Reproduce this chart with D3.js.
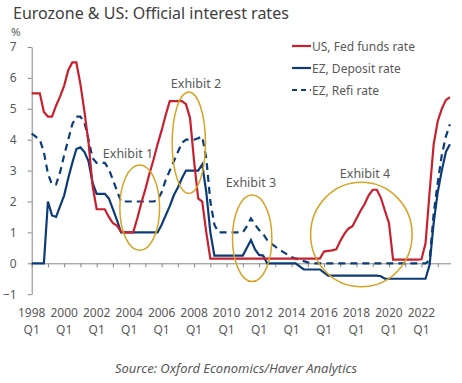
<!DOCTYPE html>
<html>
<head>
<meta charset="utf-8">
<script src="https://cdn.jsdelivr.net/npm/d3@7"></script>
<style>
  body { margin: 0; background: #fff; }
  svg text { font-family: "Noto Sans", "Open Sans", sans-serif; fill: #595959; }
</style>
</head>
<body>
<div class="chart"></div>
<script>
// quarterly, 1998Q1 .. 2023Q4
const startYear = 1998
const fedFunds = [
  5.5, 5.5, 5.5, 4.9,      // 1998
  4.75, 4.75, 5.1, 5.4,    // 1999
  5.75, 6.25, 6.5, 6.5,    // 2000
  5.8, 4.9, 3.9, 2.5,      // 2001
  1.75, 1.75, 1.75, 1.5,   // 2002
  1.3, 1.22, 1.02, 1.0,    // 2003
  1.0, 1.0, 1.45, 1.95,    // 2004
  2.4, 2.9, 3.35, 3.85,    // 2005
  4.3, 4.8, 5.25, 5.25,    // 2006
  5.25, 5.25, 5.15, 4.7,   // 2007
  3.3, 2.1, 2.0, 1.0,      // 2008
  0.15, 0.15, 0.15, 0.15,  // 2009
  0.15, 0.15, 0.15, 0.15,  // 2010
  0.15, 0.15, 0.15, 0.15,  // 2011
  0.15, 0.15, 0.15, 0.15,  // 2012
  0.15, 0.15, 0.15, 0.15,  // 2013
  0.15, 0.15, 0.15, 0.15,  // 2014
  0.15, 0.15, 0.15, 0.16,  // 2015
  0.38, 0.4, 0.42, 0.45,   // 2016
  0.72, 0.95, 1.12, 1.2,   // 2017
  1.45, 1.7, 1.92, 2.2,    // 2018
  2.38, 2.38, 2.12, 1.7,   // 2019
  1.3, 0.12, 0.12, 0.12,   // 2020
  0.12, 0.12, 0.12, 0.12,  // 2021
  0.13, 0.65, 2.3, 3.85,   // 2022
  4.6, 5.0, 5.28, 5.38     // 2023
]
const ezDeposit = [
  0, 0, 0, 0,
  2.0, 1.55, 1.5, 1.85,
  2.2, 2.75, 3.25, 3.7,
  3.75, 3.6, 3.3, 2.6,
  2.25, 2.25, 2.25, 2.1,
  1.75, 1.4, 1.0, 1.0,
  1.0, 1.0, 1.0, 1.0,
  1.0, 1.0, 1.0, 1.0,
  1.25, 1.55, 1.85, 2.2,
  2.45, 2.75, 3.0, 3.0,
  3.0, 3.0, 3.2, 2.3,
  1.0, 0.25, 0.25, 0.25,
  0.25, 0.25, 0.25, 0.25,
  0.25, 0.5, 0.75, 0.45,
  0.27, 0.25, 0.0, 0.0,
  0, 0, 0, 0,
  0, 0, -0.1, -0.2,
  -0.2, -0.2, -0.2, -0.2,
  -0.3, -0.4, -0.4, -0.4,
  -0.4, -0.4, -0.4, -0.4,
  -0.4, -0.4, -0.4, -0.4,
  -0.4, -0.4, -0.42, -0.5,
  -0.5, -0.5, -0.5, -0.5,
  -0.5, -0.5, -0.5, -0.5,
  -0.5, -0.5, -0.05, 1.3,
  2.3, 3.0, 3.6, 3.85
]
const ezRefi = [
  4.2, 4.1, 4.0, 3.6,
  2.9, 2.55, 2.55, 2.95,
  3.5, 4.0, 4.5, 4.75,
  4.75, 4.55, 4.0, 3.4,
  3.25, 3.25, 3.25, 3.05,
  2.7, 2.35, 2.0, 2.0,
  2.0, 2.0, 2.0, 2.0,
  2.0, 2.0, 2.0, 2.05,
  2.3, 2.7, 3.0, 3.3,
  3.6, 3.9, 4.0, 4.0,
  4.0, 4.05, 4.1, 3.4,
  2.0, 1.25, 1.0, 1.0,
  1.0, 1.0, 1.0, 1.0,
  1.0, 1.2, 1.45, 1.25,
  1.08, 0.95, 0.75, 0.64,
  0.54, 0.45, 0.36, 0.28,
  0.2, 0.15, 0.12, 0.07,
  0.03, 0, 0, 0,
  0, 0, 0, 0,
  0, 0, 0, 0,
  0, 0, 0, 0,
  0, 0, 0, 0,
  0, 0, 0, 0,
  0, 0, 0, 0,
  0, 0, 0.1, 1.6,
  2.6, 3.5, 4.1, 4.5
]
const seriesNames = ["US, Fed funds rate", "EZ, Deposit rate", "EZ, Refi rate"]
const yTicks = [-1, 0, 1, 2, 3, 4, 5, 6, 7]
// exhibit rings: [label, centre quarter, centre value, half-width in quarters, half-height in %]
const exhibits = [
  ["Exhibit 1", 26.6, 1.8, 4.9, 1.38],
  ["Exhibit 2", 38.7, 3.9, 4.1, 1.64],
  ["Exhibit 3", 54.3, 0.81, 4.85, 1.4],
  ["Exhibit 4", 81.2, 0.93, 12.5, 1.69]
]
// where the ring captions sit (px)
const exhibitLabelPos = [[128, 158], [196, 88], [251, 187], [365, 178]]

const width = 462, height = 383
const svg = d3.select('.chart').append('svg')
  .attr('width', width)
  .attr('height', height)

const nQ = fedFunds.length
const x = d3.scaleLinear().domain([0, nQ - 1]).range([31.7, 449.9])
const y = d3.scaleLinear().domain([-1, 7]).range([294.2, 47.0])

const red = '#c8202f', navy = '#0c3c78', gold = '#d6a324'

// title
svg.append('text')
  .attr('x', 13).attr('y', 19)
  .attr('font-size', '16px')
  .style('fill', '#404040')
  .text('Eurozone & US: Official interest rates')

svg.append('text')
  .attr('x', 11).attr('y', 36)
  .attr('font-size', '11.5px')
  .text('%')

// y axis
const yAxis = d3.axisLeft(y).tickValues(yTicks).tickSize(4).tickSizeOuter(0).tickPadding(11)
const gy = svg.append('g')
  .attr('class', 'y-axis')
  .attr('transform', `translate(${x(0)},0)`)
  .call(yAxis)
gy.select('.domain').attr('stroke', '#868686')
gy.selectAll('line').attr('stroke', '#868686')
gy.selectAll('text').attr('font-size', '12px').style('fill', '#595959')
  .attr('font-family', null)

// x axis at zero
const yearTicks = d3.range(0, nQ, 4)
const xAxis = d3.axisBottom(x).tickValues(yearTicks).tickSize(4).tickSizeOuter(0).tickFormat('')
const gx = svg.append('g')
  .attr('class', 'x-axis')
  .attr('transform', `translate(0,${y(0)})`)
  .call(xAxis)
gx.select('.domain').attr('d', `M${x(0)},0.5H451`).attr('stroke', '#868686')
gx.selectAll('line').attr('stroke', '#868686')

// x labels at the bottom
const labelQs = d3.range(0, nQ, 8)
const xl = svg.append('g').selectAll('text')
  .data(labelQs)
  .enter()
  .append('text')
  .attr('text-anchor', 'middle')
  .attr('font-size', '12px')
xl.append('tspan').attr('x', d => x(d)).attr('y', 317).text(d => startYear + d / 4)
xl.append('tspan').attr('x', d => x(d)).attr('y', 334).text('Q1')

// lines
const line = d3.line().x((d, i) => x(i)).y(d => y(d))

svg.append('path').datum(ezRefi)
  .attr('fill', 'none').attr('stroke', navy).attr('stroke-width', 2.2)
  .attr('stroke-dasharray', '7,5')
  .attr('d', line)

svg.append('path').datum(ezDeposit)
  .attr('fill', 'none').attr('stroke', navy).attr('stroke-width', 2.2)
  .attr('d', line)

svg.append('path').datum(fedFunds)
  .attr('fill', 'none').attr('stroke', red).attr('stroke-width', 2.2)
  .attr('d', line)

// exhibit rings
const qw = x(1) - x(0), vh = y(0) - y(1)
exhibits.forEach((e, i) => {
  svg.append('ellipse')
    .attr('cx', x(e[1])).attr('cy', y(e[2]))
    .attr('rx', e[3] * qw).attr('ry', e[4] * vh)
    .attr('fill', 'none').attr('stroke', gold).attr('stroke-width', 1.5)
  svg.append('text')
    .attr('x', exhibitLabelPos[i][0]).attr('y', exhibitLabelPos[i][1])
    .attr('text-anchor', 'middle')
    .attr('font-size', '12.5px')
    .text(e[0])
})

// legend
const legend = svg.append('g').selectAll('g')
  .data(seriesNames)
  .enter()
  .append('g')
  .attr('transform', (d, i) => `translate(292,${46 + i * 22})`)
legend.append('line')
  .attr('x1', 0).attr('x2', 19)
  .attr('stroke', (d, i) => i == 0 ? red : navy)
  .attr('stroke-width', 2.2)
  .attr('stroke-dasharray', (d, i) => i == 2 ? '5,4' : null)
legend.append('text')
  .attr('x', 20).attr('y', 4.5)
  .attr('font-size', '12px')
  .text(d => d)

// source
svg.append('text')
  .attr('x', 236).attr('y', 373)
  .attr('text-anchor', 'middle')
  .attr('font-size', '13px')
  .attr('font-style', 'italic')
  .text('Source: Oxford Economics/Haver Analytics')
</script>
</body>
</html>
